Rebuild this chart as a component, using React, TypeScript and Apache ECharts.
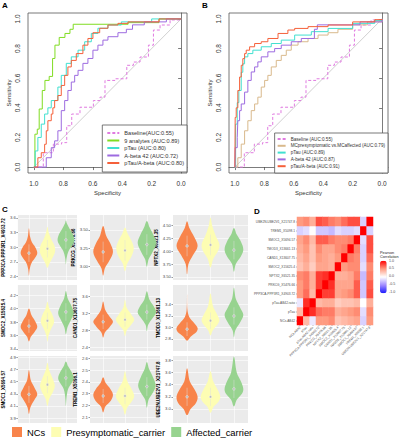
import React, { useEffect, useRef } from 'react';
import * as echarts from 'echarts';

const FONT = 'Liberation Sans';

// ---------- ROC data: [specificity, sensitivity] at each rise ----------
const rocBaseline = [[0.936,0.097],[0.868,0.155],[0.812,0.165],[0.777,0.279],[0.743,0.358],[0.687,0.404],[0.596,0.449],[0.551,0.472],[0.517,0.585],[0.449,0.596],[0.369,0.687],[0.324,0.709],[0.279,0.743],[0.222,0.823],[0.188,0.925],[0.143,0.959],[0.075,0.993],[0,1]];
const roc9Analytes = [[0.993,0.222],[0.977,0.256],[0.964,0.392],[0.943,0.517],[0.925,0.585],[0.896,0.612],[0.873,0.733],[0.857,0.823],[0.828,0.875],[0.789,0.902],[0.755,0.93],[0.733,0.964],[0.36,0.975],[0.15,1],[0,1]];
const rocPTauA = [[0.991,0.109],[0.973,0.2],[0.95,0.29],[0.927,0.358],[0.905,0.4],[0.882,0.449],[0.837,0.54],[0.814,0.619],[0.78,0.7],[0.746,0.744],[0.7,0.789],[0.655,0.846],[0.61,0.902],[0.565,0.937],[0.497,0.959],[0.406,0.98],[0.2,1],[0,1]];
const rocABeta42A = [[0.916,0.063],[0.882,0.131],[0.859,0.177],[0.837,0.245],[0.814,0.381],[0.791,0.449],[0.769,0.517],[0.746,0.574],[0.723,0.619],[0.7,0.653],[0.667,0.7],[0.633,0.733],[0.599,0.789],[0.565,0.823],[0.531,0.857],[0.497,0.88],[0.429,0.907],[0.372,0.93],[0.33,0.96],[0.25,0.98],[0.1,1],[0,1]];
const rocRatioA = [[0.973,0.063],[0.95,0.097],[0.927,0.154],[0.916,0.245],[0.905,0.313],[0.882,0.358],[0.871,0.4],[0.859,0.449],[0.837,0.483],[0.814,0.551],[0.791,0.619],[0.769,0.676],[0.746,0.72],[0.712,0.766],[0.667,0.823],[0.633,0.868],[0.599,0.907],[0.553,0.937],[0.497,0.959],[0.429,0.97],[0.361,0.98],[0.15,1],[0,1]];
const rocMCpresVsAff = [[0.98,0.063],[0.957,0.155],[0.934,0.245],[0.912,0.313],[0.889,0.381],[0.866,0.426],[0.844,0.472],[0.821,0.54],[0.798,0.585],[0.776,0.619],[0.753,0.676],[0.719,0.72],[0.685,0.754],[0.651,0.789],[0.617,0.823],[0.571,0.846],[0.503,0.868],[0.435,0.891],[0.367,0.907],[0.3,0.93],[0.2,0.96],[0.1,0.98],[0,1]];
const rocPTauB = [[0.995,0.29],[0.984,0.435],[0.973,0.517],[0.957,0.64],[0.946,0.697],[0.934,0.744],[0.912,0.766],[0.878,0.789],[0.821,0.812],[0.753,0.834],[0.685,0.857],[0.594,0.891],[0.481,0.914],[0.367,0.936],[0.2,0.97],[0.05,0.99],[0,1]];
const rocABeta42B = [[0.998,0.131],[0.984,0.2],[0.98,0.313],[0.968,0.381],[0.957,0.426],[0.934,0.506],[0.912,0.585],[0.889,0.642],[0.866,0.676],[0.844,0.71],[0.821,0.744],[0.776,0.778],[0.73,0.8],[0.685,0.823],[0.617,0.846],[0.549,0.868],[0.46,0.93],[0.44,0.96],[0.15,0.98],[0,1]];
const rocRatioB = [[0.998,0.335],[0.991,0.4],[0.98,0.517],[0.968,0.608],[0.957,0.687],[0.946,0.732],[0.934,0.766],[0.923,0.789],[0.9,0.812],[0.866,0.834],[0.821,0.846],[0.776,0.868],[0.707,0.902],[0.64,0.925],[0.594,0.936],[0.503,0.948],[0.367,0.959],[0.2,0.98],[0.05,0.995],[0,1]];

const rocTicks = [0, 0.2, 0.4, 0.6, 0.8, 1.0];
const legendA = ['Baseline(AUC:0.55)', '9 analytes (AUC:0.89)', 'pTau (AUC:0.80)', 'A-beta 42 (AUC:0.72)', 'pTau/A-beta (AUC:0.80)'];
const legendB = ['Baseline (AUC:0.55)', 'MCpresymptomatic vs.MCaffected (AUC:0.79)', 'pTau (AUC:0.89)', 'A-beta 42 (AUC:0.87)', 'pTau/A-beta (AUC:0.91)'];
const rocColorsA = ['#e07be0', '#80dc22', '#40e0d0', '#9d6be0', '#f5603a'];
const rocColorsB = ['#e07be0', '#d9b98c', '#40e0d0', '#9d6be0', '#f5603a'];

// ---------- Violin data ----------
const groups = ['NCs', 'Presymptomatic_carrier', 'Affected_carrier'];
const groupColors = ['#f8844b', '#fdfdb3', '#97d38f'];
const violinNames = ['PPP3CA.PPP3R1_X4903.72', 'PRKCG_X5476.66', 'NPTX2_X6521.35', 'SMOC2_X15625.4', 'CAND1_X13607.75', 'TMOD3_X13661.13', 'SMOC1_X5694.57', 'TREM1_X5098.1', 'UBE2N.UBE2V1_X21747.8'];
const violinRanges = [[2.33,3.66],[2.82,3.7],[3.44,4.7],[3.37,4.35],[2.31,3.87],[2.59,3.74],[3.82,4.92],[2.05,2.62],[2.77,3.87]];
const violinTicks = [[2.4,2.7,3.0,3.3,3.6],[3.0,3.25,3.5],[3.5,3.75,4.0,4.25,4.5],[3.4,3.6,3.8,4.0,4.2],[2.4,2.8,3.2,3.6],[2.8,3.0,3.2,3.4],[3.9,4.1,4.3,4.5,4.7,4.9],[2.1,2.2,2.3,2.4,2.5,2.6],[3.0,3.2,3.4,3.6,3.8]];
const violinTickDigits = [1,2,2,1,1,1,1,1,1];
const violinMeans = [[2.88,2.97,3.15],[3.2,3.22,3.3],[4.1,4.12,4.02],[3.74,3.82,3.95],[3.0,3.05,3.23],[2.97,3.12,3.2],[4.29,4.45,4.56],[2.28,2.28,2.36],[3.2,3.2,3.33]];
const violinSD = [[0.18,0.18,0.18],[0.14,0.14,0.14],[0.2,0.2,0.18],[0.1,0.12,0.13],[0.17,0.17,0.18],[0.12,0.14,0.15],[0.14,0.14,0.14],[0.06,0.07,0.08],[0.15,0.15,0.15]];

// [value, half-width] from bottom tip to top tip, for NCs / Presymptomatic / Affected
const vPPP3CA = [
  [[2.42,0],[2.55,0.04],[2.68,0.14],[2.8,0.36],[2.89,0.45],[3.0,0.34],[3.1,0.16],[3.22,0.06],[3.39,0]],
  [[2.58,0],[2.68,0.12],[2.8,0.3],[2.93,0.42],[3.05,0.36],[3.17,0.2],[3.3,0.07],[3.42,0]],
  [[2.65,0],[2.78,0.04],[2.92,0.14],[3.03,0.32],[3.14,0.45],[3.26,0.38],[3.38,0.2],[3.48,0.06],[3.55,0]],
];
const vPRKCG = [
  [[2.88,0],[2.98,0.08],[3.08,0.28],[3.2,0.45],[3.32,0.32],[3.42,0.14],[3.55,0]],
  [[2.94,0],[3.04,0.1],[3.14,0.3],[3.25,0.4],[3.36,0.28],[3.45,0.12],[3.53,0]],
  [[3.0,0],[3.1,0.08],[3.2,0.26],[3.32,0.42],[3.43,0.3],[3.53,0.13],[3.62,0]],
];
const vNPTX2 = [
  [[3.55,0],[3.75,0.06],[3.92,0.25],[4.1,0.45],[4.28,0.3],[4.45,0.1],[4.58,0]],
  [[3.68,0],[3.85,0.12],[4.0,0.32],[4.13,0.38],[4.3,0.22],[4.48,0.08],[4.65,0]],
  [[3.6,0],[3.75,0.08],[3.9,0.3],[4.03,0.4],[4.18,0.3],[4.32,0.12],[4.45,0]],
];
const vSMOC2 = [
  [[3.51,0],[3.58,0.1],[3.66,0.32],[3.73,0.45],[3.82,0.32],[3.9,0.14],[4.0,0]],
  [[3.51,0],[3.6,0.06],[3.7,0.2],[3.8,0.36],[3.9,0.28],[4.0,0.1],[4.1,0]],
  [[3.62,0],[3.72,0.08],[3.82,0.25],[3.93,0.42],[4.04,0.3],[4.15,0.1],[4.26,0]],
];
const vCAND1 = [
  [[2.63,0],[2.75,0.08],[2.88,0.3],[3.0,0.45],[3.12,0.3],[3.28,0.1],[3.48,0]],
  [[2.66,0],[2.8,0.08],[2.93,0.28],[3.05,0.42],[3.18,0.28],[3.33,0.08],[3.52,0]],
  [[2.78,0],[2.93,0.06],[3.08,0.25],[3.22,0.42],[3.36,0.32],[3.52,0.12],[3.72,0]],
];
const vTMOD3 = [
  [[2.77,0],[2.84,0.15],[2.92,0.4],[2.99,0.45],[3.08,0.3],[3.18,0.1],[3.3,0.02],[3.58,0]],
  [[2.86,0],[2.95,0.1],[3.05,0.3],[3.13,0.38],[3.25,0.25],[3.38,0.1],[3.59,0]],
  [[2.83,0],[2.95,0.06],[3.1,0.28],[3.22,0.4],[3.35,0.26],[3.5,0.08],[3.69,0]],
];
const vSMOC1 = [
  [[3.97,0],[4.08,0.08],[4.2,0.3],[4.29,0.45],[4.4,0.3],[4.52,0.1],[4.69,0]],
  [[4.1,0],[4.22,0.1],[4.33,0.3],[4.43,0.4],[4.55,0.28],[4.68,0.1],[4.81,0]],
  [[4.1,0],[4.25,0.04],[4.38,0.12],[4.48,0.32],[4.56,0.42],[4.66,0.3],[4.75,0.12],[4.83,0]],
];
const vTREM1 = [
  [[2.14,0],[2.19,0.1],[2.24,0.35],[2.29,0.45],[2.34,0.33],[2.39,0.12],[2.44,0]],
  [[2.12,0],[2.18,0.1],[2.23,0.3],[2.28,0.42],[2.34,0.3],[2.41,0.1],[2.49,0]],
  [[2.18,0],[2.25,0.08],[2.31,0.28],[2.37,0.4],[2.44,0.28],[2.51,0.1],[2.57,0]],
];
const vUBE2N = [
  [[2.9,0],[3.0,0.15],[3.1,0.38],[3.2,0.45],[3.32,0.32],[3.45,0.12],[3.67,0]],
  [[2.94,0],[3.04,0.14],[3.12,0.34],[3.2,0.42],[3.32,0.3],[3.45,0.12],[3.62,0]],
  [[3.04,0],[3.15,0.12],[3.25,0.34],[3.33,0.4],[3.45,0.3],[3.6,0.12],[3.86,0]],
];
const violinShapes = [vPPP3CA, vPRKCG, vNPTX2, vSMOC2, vCAND1, vTMOD3, vSMOC1, vTREM1, vUBE2N];

// ---------- Correlation heatmap ----------
const corrVars = ['NCs.AB42','pTau','pTau.AB42.ratio','PPP3CA.PPP3R1_X4903.72','PRKCG_X5476.66','NPTX2_X6521.35','SMOC2_X15625.4','CAND1_X13607.75','TMOD3_X13661.13','SMOC1_X5694.57','TREM1_X5098.1','UBE2N.UBE2V1_X21747.8'];
const corrMatrix = [
  [1, 0.35, -0.1, 0.5, 0.5, 0.55, 0.3, 0.35, 0.4, 0.45, -0.2, 0.5],
  [0.35, 1, 0.85, 0.65, 0.6, 0.6, 0.4, 0.45, 0.5, 0.55, -0.15, 0.55],
  [-0.1, 0.85, 1, 0.35, 0.4, 0.4, 0.25, 0.3, 0.3, 0.35, 0.0, 0.4],
  [0.5, 0.65, 0.35, 1, 0.8, 0.8, 0.45, 0.5, 0.55, 0.7, -0.25, 0.75],
  [0.5, 0.6, 0.4, 0.8, 1, 0.85, 0.45, 0.45, 0.45, 0.7, -0.25, 0.7],
  [0.55, 0.6, 0.4, 0.8, 0.85, 1, 0.4, 0.4, 0.45, 0.6, -0.3, 0.6],
  [0.3, 0.4, 0.25, 0.45, 0.45, 0.4, 1, 0.5, 0.55, 0.55, -0.15, 0.55],
  [0.35, 0.45, 0.3, 0.5, 0.45, 0.4, 0.5, 1, 0.6, 0.55, -0.2, 0.65],
  [0.4, 0.5, 0.3, 0.55, 0.45, 0.45, 0.55, 0.6, 1, 0.6, -0.2, 0.75],
  [0.45, 0.55, 0.35, 0.7, 0.7, 0.6, 0.55, 0.55, 0.6, 1, -0.15, 0.75],
  [-0.2, -0.15, 0.0, -0.25, -0.25, -0.3, -0.15, -0.2, -0.2, -0.15, 1, -0.2],
  [0.5, 0.55, 0.4, 0.75, 0.7, 0.6, 0.55, 0.65, 0.75, 0.75, -0.2, 1],
];
const colorBarLabels = ['1.0', '0.5', '0.0', '-0.5', '-1.0'];
const colorScale = ['#1a1aff', '#a08cff', '#ffffff', '#ff9b80', '#ff0000'];

function toSteps(pts: number[][]): number[][] {
  const out: number[][] = [[1, 0]];
  let prev = 0;
  for (const [sp, se] of pts) {
    out.push([sp, prev]);
    out.push([sp, se]);
    prev = se;
  }
  return out;
}

function buildOption(): any {
  const grids: any[] = [];
  const xAxes: any[] = [];
  const yAxes: any[] = [];
  const series: any[] = [];

  // ROC panels
  const rocPanels = [
    { left: 28, names: legendA, colors: rocColorsA, curves: [rocBaseline, roc9Analytes, rocPTauA, rocABeta42A, rocRatioA] },
    { left: 229, names: legendB, colors: rocColorsB, curves: [rocBaseline, rocMCpresVsAff, rocPTauB, rocABeta42B, rocRatioB] },
  ];
  rocPanels.forEach((p, i) => {
    grids.push({ left: p.left, top: 13, width: 159, height: 160, show: true, borderColor: '#555', borderWidth: 0.8, backgroundColor: '#fff' });
    xAxes.push({
      gridIndex: i, type: 'value', inverse: true, min: -0.04, max: 1.04, offset: 4,
      axisLine: { show: true, lineStyle: { color: '#444', width: 0.7 } },
      axisTick: { show: true, length: 3, customValues: rocTicks, lineStyle: { color: '#444', width: 0.7 } },
      axisLabel: { customValues: rocTicks, formatter: (v: number) => v.toFixed(1), fontSize: 6.5, margin: 3, color: '#333' },
      splitLine: { show: false },
      name: 'Specificity', nameLocation: 'middle', nameGap: 13, nameTextStyle: { fontSize: 6, color: '#333' },
    });
    yAxes.push({
      gridIndex: i, type: 'value', min: -0.04, max: 1.04, offset: 4,
      axisLine: { show: true, lineStyle: { color: '#444', width: 0.7 } },
      axisTick: { show: true, length: 3, customValues: rocTicks, lineStyle: { color: '#444', width: 0.7 } },
      axisLabel: { customValues: rocTicks, formatter: (v: number) => v.toFixed(1), fontSize: 6.5, margin: 3, rotate: 90, color: '#333' },
      splitLine: { show: false },
      name: 'Sensitivity', nameLocation: 'middle', nameGap: 12, nameTextStyle: { fontSize: 6, color: '#333' },
    });
    series.push({
      type: 'line', xAxisIndex: i, yAxisIndex: i, data: [[1, 0], [0, 1]], symbol: 'none', silent: true,
      lineStyle: { color: '#c4c4c4', width: 0.8 }, z: 1,
    });
    p.curves.forEach((c, k) => {
      series.push({
        type: 'line', name: p.names[k], xAxisIndex: i, yAxisIndex: i, data: toSteps(c), symbol: 'none', showSymbol: false,
        color: p.colors[k],
        lineStyle: { color: p.colors[k], width: 1, type: k === 0 ? [3, 2] : 'solid' },
        z: 2 + k,
      });
    });
  });

  // Violin panels
  const cols = [{ left: 13, width: 64 }, { left: 90, width: 70 }, { left: 173, width: 75 }];
  const rows = [{ top: 215, height: 65 }, { top: 285, height: 66 }, { top: 356, height: 67 }];
  violinNames.forEach((name, p) => {
    const gi = grids.length;
    const c = cols[p % 3];
    const r = rows[Math.floor(p / 3)];
    grids.push({ left: c.left, width: c.width, top: r.top, height: r.height, show: true, backgroundColor: '#ebebeb', borderWidth: 0 });
    xAxes.push({
      gridIndex: gi, type: 'value', min: 0.4, max: 3.6,
      axisLine: { show: false }, axisLabel: { show: false },
      axisTick: { show: false, customValues: [1, 2, 3] },
      splitLine: { show: true, lineStyle: { color: '#ffffff', width: 0.6 } },
    });
    const digits = violinTickDigits[p];
    yAxes.push({
      gridIndex: gi, type: 'value', min: violinRanges[p][0], max: violinRanges[p][1],
      axisLine: { show: false },
      axisTick: { show: true, length: 1.5, customValues: violinTicks[p], lineStyle: { color: '#333', width: 0.5 } },
      axisLabel: { customValues: violinTicks[p], formatter: (v: number) => v.toFixed(digits), fontSize: 4.3, margin: 2, color: '#4d4d4d' },
      splitLine: { show: true, lineStyle: { color: '#ffffff', width: 0.6 } },
      name, nameLocation: 'middle', nameGap: 10, nameTextStyle: { fontSize: 4.5, fontWeight: 'bold', color: '#000' },
    });
    violinShapes[p].forEach((shape, g) => {
      series.push({
        type: 'custom', name: groups[g], xAxisIndex: gi, yAxisIndex: gi, silent: true,
        itemStyle: { color: groupColors[g] },
        data: [[g + 1, violinMeans[p][g], violinSD[p][g]]],
        encode: { x: 0, y: 1 },
        renderItem: (_params: any, api: any) => {
          const x = api.value(0), m = api.value(1), sd = api.value(2);
          const right = shape.map(([y, w]) => api.coord([x + w, y]));
          const left = shape.slice(1, -1).reverse().map(([y, w]) => api.coord([x - w, y]));
          const top = api.coord([x, m + sd]);
          const bot = api.coord([x, m - sd]);
          const ctr = api.coord([x, m]);
          return {
            type: 'group',
            children: [
              { type: 'polygon', shape: { points: right.concat(left), smooth: 0.35 }, style: { fill: groupColors[g], stroke: 'none' } },
              { type: 'line', shape: { x1: top[0], y1: top[1], x2: bot[0], y2: bot[1] }, style: { stroke: 'rgba(225,225,225,0.9)', lineWidth: 0.5 } },
              { type: 'circle', shape: { cx: ctr[0], cy: ctr[1], r: 1.3 }, style: { fill: '#bdbdbd', stroke: '#ffffff', lineWidth: 0.4 } },
            ],
          };
        },
      });
    });
  });

  // Heatmap
  const hi = grids.length;
  grids.push({ left: 297, top: 217, width: 76, height: 108, show: false });
  xAxes.push({
    gridIndex: hi, type: 'category', data: corrVars,
    axisLine: { show: false }, axisTick: { show: true, length: 1, alignWithLabel: true, lineStyle: { color: '#333', width: 0.4 } },
    axisLabel: { rotate: 45, interval: 0, fontSize: 3.2, margin: 2, color: '#4d4d4d' },
    splitLine: { show: false },
  });
  yAxes.push({
    gridIndex: hi, type: 'category', data: corrVars,
    axisLine: { show: false }, axisTick: { show: true, length: 1, alignWithLabel: true, lineStyle: { color: '#333', width: 0.4 } },
    axisLabel: { interval: 0, fontSize: 3.2, margin: 2, color: '#4d4d4d' },
    splitLine: { show: false },
  });
  const heatData: number[][] = [];
  corrMatrix.forEach((row, yi) => row.forEach((v, xi) => heatData.push([xi, yi, v])));
  const heatIndex = series.length;
  series.push({ type: 'heatmap', xAxisIndex: hi, yAxisIndex: hi, data: heatData, silent: true, itemStyle: { borderWidth: 0 } });

  const graphics: any[] = colorBarLabels.map((t, i) => ({
    type: 'text', left: 389, top: 258.5 + i * 7.8,
    style: { text: t, fontSize: 3.6, fill: '#4d4d4d', fontFamily: FONT },
  }));

  const rocLegendBase = {
    orient: 'vertical', borderColor: '#555', borderWidth: 0.8, backgroundColor: '#fff', borderRadius: 0,
    selectedMode: false, itemStyle: { opacity: 0, borderWidth: 0 },
  };

  return {
    animation: false,
    backgroundColor: '#ffffff',
    textStyle: { fontFamily: FONT },
    title: [
      { text: 'A', left: 2, top: 1, padding: 0, textStyle: { fontSize: 8, fontWeight: 'bold', color: '#000' } },
      { text: 'B', left: 202, top: 1, padding: 0, textStyle: { fontSize: 8, fontWeight: 'bold', color: '#000' } },
      { text: 'C', left: 2, top: 205, padding: 0, textStyle: { fontSize: 8, fontWeight: 'bold', color: '#000' } },
      { text: 'D', left: 254, top: 207, padding: 0, textStyle: { fontSize: 8, fontWeight: 'bold', color: '#000' } },
      { text: 'Pearson\nCorrelation', left: 380, top: 251, padding: 0, textStyle: { fontSize: 3.8, lineHeight: 4.2, fontWeight: 'normal', color: '#222' } },
    ],
    legend: [
      {
        ...rocLegendBase,
        data: legendA, right: 214, top: 125, padding: [5, 3, 6, 4], itemGap: 1.5,
        itemWidth: 12, itemHeight: 6,
        textStyle: { fontSize: 5.6, lineHeight: 6, color: '#333' },
      },
      {
        ...rocLegendBase,
        data: legendB, right: 13, top: 133, padding: [3.5, 3, 4.3, 2], itemGap: 1.8,
        itemWidth: 8, itemHeight: 5,
        textStyle: { fontSize: 4.6, lineHeight: 5, color: '#333' },
      },
      {
        data: groups.map((g) => ({ name: g, icon: 'rect' })), orient: 'horizontal', left: 12, top: 427, padding: 0, itemGap: 6,
        itemWidth: 10, itemHeight: 10, textStyle: { fontSize: 9.4, color: '#000' }, selectedMode: false,
      },
    ],
    visualMap: {
      type: 'continuous', min: -1, max: 1, seriesIndex: heatIndex, calculable: false, hoverLink: false,
      orient: 'vertical', left: 380, top: 260.7, itemWidth: 6.7, itemHeight: 32.6, padding: 0,
      inRange: { color: colorScale },
    },
    grid: grids,
    xAxis: xAxes,
    yAxis: yAxes,
    series,
    graphic: graphics,
  };
}

export default function App() {
  const ref = useRef<HTMLDivElement>(null);
  useEffect(() => {
    if (!ref.current) return;
    const chart = echarts.init(ref.current, null, { renderer: 'svg' });
    chart.setOption(buildOption());
    return () => chart.dispose();
  }, []);
  return <div ref={ref} style={{ position: 'absolute', left: 0, top: 0, width: 401, height: 440 }} />;
}
